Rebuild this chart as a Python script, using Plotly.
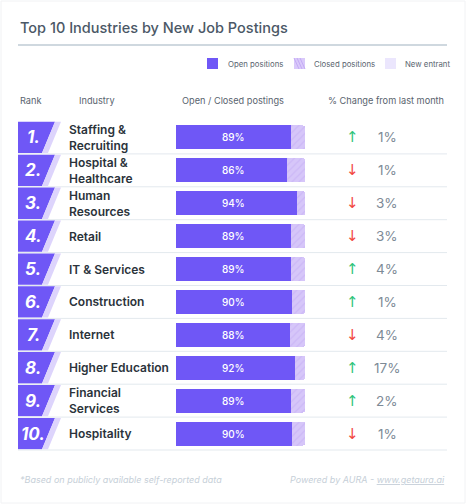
import plotly.graph_objects as go

# ---------------- data ----------------
ranks = ["1.", "2.", "3.", "4.", "5.", "6.", "7.", "8.", "9.", "10."]
industries = ["Staffing &<br>Recruiting", "Hospital &<br>Healthcare", "Human<br>Resources",
              "Retail", "IT & Services", "Construction", "Internet", "Higher Education",
              "Financial<br>Services", "Hospitality"]
open_pct = [89, 86, 94, 89, 89, 90, 88, 92, 89, 90]
closed_pct = [100 - v for v in open_pct]
change_pct = [1, 1, 3, 3, 4, 1, 4, 17, 2, 1]
change_dir = ["up", "down", "down", "down", "up", "up", "down", "up", "up", "down"]
headers = ["Rank", "Industry", "Open / Closed postings", "% Change from last month"]
legend_labels = ["Open positions", "Closed positions", "New entrant"]

# ---------------- layout helpers ----------------
W, H = 466, 504
ROW_TOP, ROW_H = 121.0, 32.9
N = len(ranks)
ROW_BOT = ROW_TOP + ROW_H * N

def px(x):
    return x / W

def py(y):
    return 1 - y / H

PURPLE = "#6f57f6"
CLOSED = "#d6c6f9"
HATCH = "#c2a9f4"
FONT = "Inter"

fig = go.Figure()
fig.add_trace(go.Bar(
    y=list(range(N)), x=open_pct, orientation="h", name=legend_labels[0],
    marker=dict(color=PURPLE, line=dict(width=0)), hoverinfo="skip", showlegend=False))
fig.add_trace(go.Bar(
    y=list(range(N)), x=closed_pct, orientation="h", name=legend_labels[1],
    marker=dict(color=CLOSED, line=dict(width=0),
                pattern=dict(shape="/", fgcolor=HATCH, bgcolor=CLOSED, size=5, solidity=0.25)),
    hoverinfo="skip", showlegend=False))

shapes = []
annotations = []

# card border
shapes.append(dict(type="rect", xref="paper", yref="paper", x0=px(1), x1=px(465), y0=py(503), y1=py(1),
                   line=dict(color="#f1f2f4", width=1), fillcolor="rgba(0,0,0,0)", layer="below"))

# title
annotations.append(dict(text="Top 10 Industries by New Job Postings", xref="paper", yref="paper",
                        x=px(18), y=py(28), xanchor="left", yanchor="middle", showarrow=False,
                        font=dict(family=FONT, size=14.5, color="#4b5866", weight=500)))
shapes.append(dict(type="line", xref="paper", yref="paper", x0=px(18), x1=px(447), y0=py(45), y1=py(45),
                   line=dict(color="#cfd8df", width=2)))

# legend (custom)
leg_sw = [207, 294, 385]
leg_tx = [226, 312, 403]
leg_fill = [PURPLE, "#d9c9fa", "#ebe6fd"]
for i, lab in enumerate(legend_labels):
    shapes.append(dict(type="rect", xref="paper", yref="paper", x0=px(leg_sw[i]), x1=px(leg_sw[i] + 11),
                       y0=py(69), y1=py(58), fillcolor=leg_fill[i], line=dict(width=0)))
    annotations.append(dict(text=lab, xref="paper", yref="paper", x=px(leg_tx[i]), y=py(63.5),
                            xanchor="left", yanchor="middle", showarrow=False,
                            font=dict(family=FONT, size=7.8, color="#5b6570")))
# hatch on closed legend swatch
for k in range(3):
    shapes.append(dict(type="line", xref="paper", yref="paper",
                       x0=px(294 + 3 * k), y0=py(58), x1=px(294 + 3 * k + 5), y1=py(69),
                       line=dict(color="#c4aaf5", width=1)))

# headers
hdr_x = [18, 77, 233, 446]
hdr_anchor = ["left", "left", "center", "right"]
for i, h in enumerate(headers):
    annotations.append(dict(text=h, xref="paper", yref="paper", x=px(hdr_x[i]), y=py(101),
                            xanchor=hdr_anchor[i], yanchor="middle", showarrow=False,
                            font=dict(family=FONT, size=9.2, color="#59636e")))

# rows
for i in range(N):
    top = ROW_TOP + ROW_H * i + 0.8
    bot = ROW_TOP + ROW_H * (i + 1) - 0.8
    # rank box
    shapes.append(dict(type="path", xref="paper", yref="paper",
                       path=f"M {px(18)},{py(top)} L {px(55)},{py(top)} L {px(42)},{py(bot)} L {px(18)},{py(bot)} Z",
                       fillcolor=PURPLE, line=dict(width=0)))
    shapes.append(dict(type="path", xref="paper", yref="paper",
                       path=f"M {px(55)},{py(top)} L {px(61)},{py(top)} L {px(48)},{py(bot)} L {px(42)},{py(bot)} Z",
                       fillcolor="#ddd4fc", line=dict(width=0)))
    # separator
    ysep = ROW_TOP + ROW_H * (i + 1)
    shapes.append(dict(type="line", xref="paper", yref="paper", x0=px(18), x1=px(447),
                       y0=py(ysep), y1=py(ysep), line=dict(color="#e3e9ee", width=1)))
    # rank text
    annotations.append(dict(text=ranks[i], xref="paper", yref="y", x=px(33), y=i,
                            xanchor="center", yanchor="middle", showarrow=False,
                            font=dict(family=FONT, size=17, color="white", weight=700, style="italic")))
    # industry
    annotations.append(dict(text=industries[i], xref="paper", yref="y", x=px(67), y=i,
                            xanchor="left", yanchor="middle", showarrow=False, align="left",
                            font=dict(family=FONT, size=12, color="#2b333b", weight=600)))
    # bar label
    annotations.append(dict(text=f"{open_pct[i]}%", xref="x", yref="y", x=44.5, y=i,
                            xanchor="center", yanchor="middle", showarrow=False,
                            font=dict(family=FONT, size=10, color="white", weight=500)))
    # arrow
    up = change_dir[i] == "up"
    annotations.append(dict(text="↑" if up else "↓", xref="paper", yref="y", x=px(352), y=i,
                            xanchor="center", yanchor="middle", showarrow=False,
                            font=dict(family="DejaVu Sans", size=15, color="#2fc47a" if up else "#f2473f")))
    # change value
    annotations.append(dict(text=f"{change_pct[i]}%", xref="paper", yref="y", x=px(387), y=i,
                            xanchor="center", yanchor="middle", showarrow=False,
                            font=dict(family=FONT, size=13.5, color="#7d8a96")))

# footer
annotations.append(dict(text="*Based on publicly available self-reported data", xref="paper", yref="paper",
                        x=px(18), y=py(479), xanchor="left", yanchor="middle", showarrow=False,
                        font=dict(family=FONT, size=9, color="#c6cfd8", style="italic")))
annotations.append(dict(text="Powered by AURA - <u>www.getaura.ai</u>", xref="paper", yref="paper",
                        x=px(447), y=py(479), xanchor="right", yanchor="middle", showarrow=False,
                        font=dict(family=FONT, size=9, color="#c6cfd8", style="italic")))

fig.update_layout(
    width=W, height=H, margin=dict(l=0, r=0, t=0, b=0),
    paper_bgcolor="white", plot_bgcolor="rgba(0,0,0,0)",
    barmode="stack", bargap=0.27, barcornerradius=2,
    showlegend=False,
    xaxis=dict(domain=[px(176), px(305)], range=[0, 100], visible=False, fixedrange=True),
    yaxis=dict(domain=[py(ROW_BOT), py(ROW_TOP)], range=[N - 0.5, -0.5], visible=False, fixedrange=True),
    shapes=shapes, annotations=annotations,
)

fig.write_html("out.html", config={"displayModeBar": False},
               post_script="document.body.style.margin='0';document.body.style.overflow='hidden';")
